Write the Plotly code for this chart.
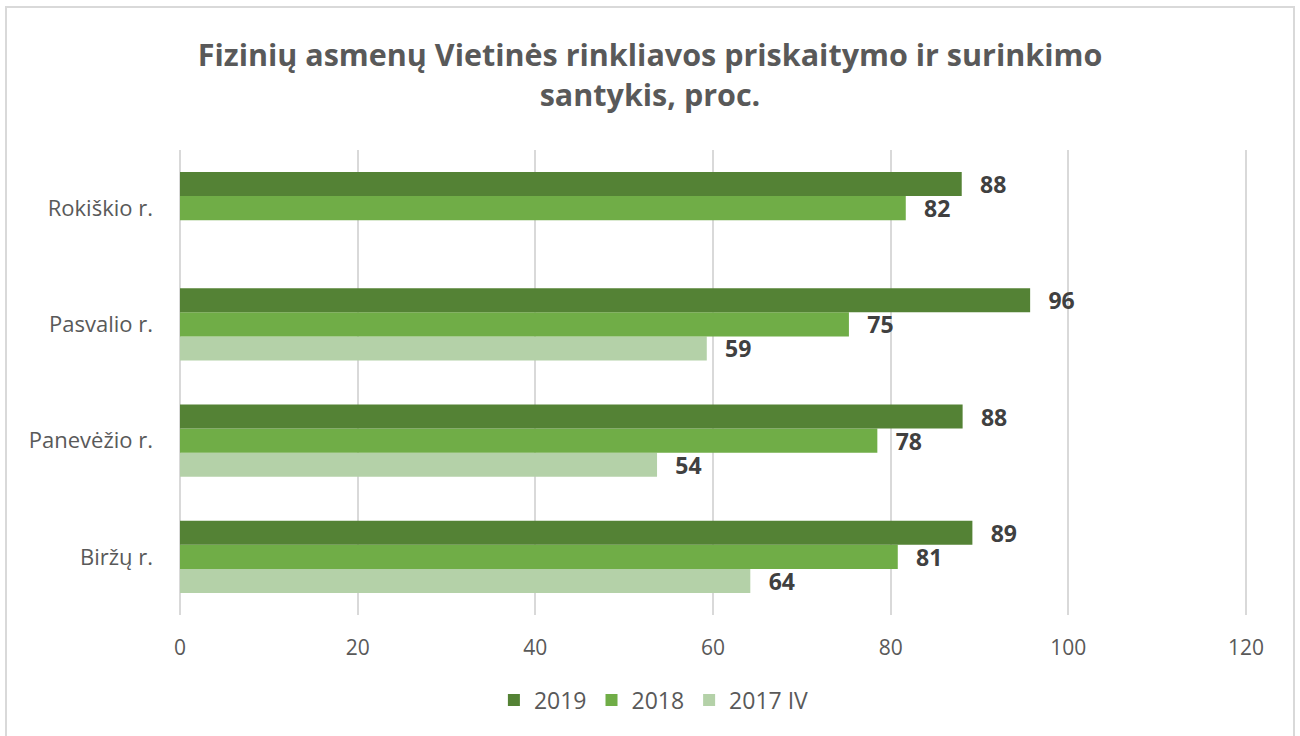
import plotly.graph_objects as go

categories = ["Biržų r.", "Panevėžio r.", "Pasvalio r.", "Rokiškio r."]
vals_2019 = [89.2, 88.1, 95.7, 88.0]
vals_2018 = [80.8, 78.5, 75.3, 81.7]
vals_2017 = [64.2, 53.7, 59.3, None]

series = [
    ("2017 IV", vals_2017, "#B4D1A8"),
    ("2018", vals_2018, "#70AD47"),
    ("2019", vals_2019, "#548235"),
]

FONT = "Open Sans, Carlito, Calibri, sans-serif"
PAD = "\u2002\u2009"

fig = go.Figure()
for name, vals, color in series:
    labels = [PAD + str(round(v)) if v is not None else "" for v in vals]
    fig.add_trace(go.Bar(
        y=categories, x=vals, name=name, orientation="h",
        marker=dict(color=color, line=dict(width=0)),
        text=labels, textposition="outside", cliponaxis=False,
        constraintext="none",
        textfont=dict(family=FONT, size=23, color="#404040", weight="bold"),
    ))

# plot area: x 180..1250 px (120 lands at 1246), y 150..615 px
fig.update_layout(
    width=1300, height=736,
    paper_bgcolor="white", plot_bgcolor="white",
    barmode="group", bargap=0.38, bargroupgap=0,
    margin=dict(l=180, r=50, t=150, b=121),
    font=dict(family=FONT, color="#595959"),
    title=dict(
        text="<b>Fizinių asmenų Vietinės rinkliavos priskaitymo ir surinkimo<br>santykis, proc.</b>",
        x=0.5, xref="container", xanchor="center", y=0.91, yanchor="top",
        font=dict(family=FONT, size=30.5, color="#595959"),
    ),
    legend=dict(
        orientation="h", x=0.503, xanchor="center", xref="container",
        y=0.049, yanchor="middle", yref="container",
        traceorder="reversed", font=dict(size=23, color="#595959"),
    ),
    showlegend=True,
)
fig.update_xaxes(
    range=[0, 120 * 1070 / 1066], dtick=20, showgrid=True, gridcolor="#D9D9D9", gridwidth=1.5,
    zeroline=True, zerolinecolor="#D9D9D9", zerolinewidth=1.5,
    showline=False, ticks="", ticklabelstandoff=18,
    tickfont=dict(size=21, color="#595959"),
)
fig.update_yaxes(
    showgrid=False, zeroline=False, showline=False, ticks="",
    ticklabelstandoff=26, tickfont=dict(size=22, color="#595959"),
)
fig.add_shape(
    type="rect", xref="paper", yref="paper",
    x0=-174 / 1070, x1=1114 / 1070, y0=-130 / 465, y1=1 + 143 / 465,
    line=dict(color="#D9D9D9", width=2), fillcolor="rgba(0,0,0,0)", layer="below",
)

fig.write_html(
    "out.html",
    config={"displayModeBar": False},
    post_script="document.body.style.margin='0';",
)
